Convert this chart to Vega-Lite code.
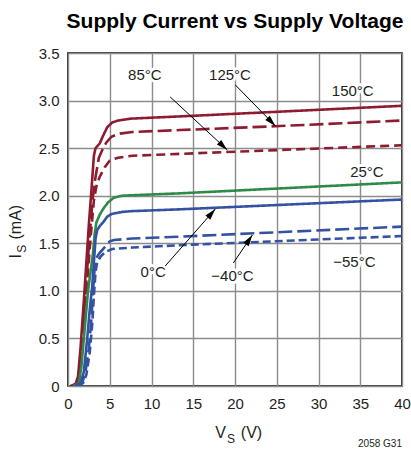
{
  "$schema": "https://vega.github.io/schema/vega-lite/v6.json",
  "width": 334,
  "height": 333,
  "autosize": {"type": "none"},
  "padding": {"left": 68, "top": 53, "right": 9, "bottom": 66},
  "title": {
    "text": "Supply Current vs Supply Voltage",
    "font": "Liberation Sans, sans-serif",
    "fontSize": 21,
    "fontWeight": "bold",
    "color": "#000000",
    "anchor": "middle",
    "offset": 14
  },
  "config": {
    "font": "Liberation Sans, sans-serif",
    "view": {"stroke": "#000000", "strokeWidth": 1.6},
    "axis": {
      "domain": false,
      "ticks": false,
      "grid": true,
      "gridColor": "#8c8c8c",
      "gridWidth": 1.4,
      "labelFont": "Liberation Sans, sans-serif",
      "labelFontSize": 15,
      "labelColor": "#231f20",
      "labelPadding": 9,
      "labelFlush": false
    }
  },
  "datasets": {
    "curves": [
      {"s": "150°C", "V": 0.3, "I": 0}, {"s": "150°C", "V": 0.9, "I": 0.02}, {"s": "150°C", "V": 1.2, "I": 0.1}, {"s": "150°C", "V": 1.5, "I": 0.4}, {"s": "150°C", "V": 1.9, "I": 0.9}, {"s": "150°C", "V": 2.2, "I": 1.3}, {"s": "150°C", "V": 2.5, "I": 1.7}, {"s": "150°C", "V": 2.8, "I": 2.05}, {"s": "150°C", "V": 3.1, "I": 2.42}, {"s": "150°C", "V": 3.3, "I": 2.5}, {"s": "150°C", "V": 3.8, "I": 2.55}, {"s": "150°C", "V": 4.2, "I": 2.63}, {"s": "150°C", "V": 4.7, "I": 2.72}, {"s": "150°C", "V": 5.3, "I": 2.77}, {"s": "150°C", "V": 6, "I": 2.79}, {"s": "150°C", "V": 7.5, "I": 2.81}, {"s": "150°C", "V": 15, "I": 2.84}, {"s": "150°C", "V": 40, "I": 2.945},
      {"s": "125°C", "V": 0.5, "I": 0}, {"s": "125°C", "V": 1.1, "I": 0.03}, {"s": "125°C", "V": 1.4, "I": 0.15}, {"s": "125°C", "V": 1.8, "I": 0.6}, {"s": "125°C", "V": 2.2, "I": 1.1}, {"s": "125°C", "V": 2.6, "I": 1.6}, {"s": "125°C", "V": 3.0, "I": 2.0}, {"s": "125°C", "V": 3.3, "I": 2.2}, {"s": "125°C", "V": 3.7, "I": 2.4}, {"s": "125°C", "V": 4.2, "I": 2.5}, {"s": "125°C", "V": 4.6, "I": 2.56}, {"s": "125°C", "V": 5.2, "I": 2.62}, {"s": "125°C", "V": 6, "I": 2.65}, {"s": "125°C", "V": 7.7, "I": 2.67}, {"s": "125°C", "V": 13.4, "I": 2.69}, {"s": "125°C", "V": 24.8, "I": 2.73}, {"s": "125°C", "V": 40, "I": 2.79},
      {"s": "85°C", "V": 0.6, "I": 0}, {"s": "85°C", "V": 1.2, "I": 0.03}, {"s": "85°C", "V": 1.5, "I": 0.2}, {"s": "85°C", "V": 1.9, "I": 0.65}, {"s": "85°C", "V": 2.3, "I": 1.1}, {"s": "85°C", "V": 2.7, "I": 1.55}, {"s": "85°C", "V": 3.1, "I": 1.95}, {"s": "85°C", "V": 3.4, "I": 2.1}, {"s": "85°C", "V": 3.8, "I": 2.2}, {"s": "85°C", "V": 4.4, "I": 2.3}, {"s": "85°C", "V": 5.0, "I": 2.37}, {"s": "85°C", "V": 6, "I": 2.4}, {"s": "85°C", "V": 7.7, "I": 2.42}, {"s": "85°C", "V": 13.4, "I": 2.44}, {"s": "85°C", "V": 40, "I": 2.53},
      {"s": "25°C", "V": 0.6, "I": 0}, {"s": "25°C", "V": 1.3, "I": 0.03}, {"s": "25°C", "V": 1.6, "I": 0.2}, {"s": "25°C", "V": 2.0, "I": 0.6}, {"s": "25°C", "V": 2.4, "I": 1.0}, {"s": "25°C", "V": 2.7, "I": 1.2}, {"s": "25°C", "V": 3.0, "I": 1.4}, {"s": "25°C", "V": 3.2, "I": 1.6}, {"s": "25°C", "V": 3.4, "I": 1.72}, {"s": "25°C", "V": 3.8, "I": 1.8}, {"s": "25°C", "V": 4.2, "I": 1.86}, {"s": "25°C", "V": 4.8, "I": 1.93}, {"s": "25°C", "V": 5.5, "I": 1.98}, {"s": "25°C", "V": 6.5, "I": 2.0}, {"s": "25°C", "V": 7.7, "I": 2.005}, {"s": "25°C", "V": 13.4, "I": 2.025}, {"s": "25°C", "V": 40, "I": 2.14},
      {"s": "0°C", "V": 0.8, "I": 0}, {"s": "0°C", "V": 1.5, "I": 0.03}, {"s": "0°C", "V": 1.9, "I": 0.15}, {"s": "0°C", "V": 2.3, "I": 0.5}, {"s": "0°C", "V": 2.6, "I": 0.8}, {"s": "0°C", "V": 2.9, "I": 1.05}, {"s": "0°C", "V": 3.1, "I": 1.3}, {"s": "0°C", "V": 3.3, "I": 1.55}, {"s": "0°C", "V": 3.5, "I": 1.64}, {"s": "0°C", "V": 3.8, "I": 1.68}, {"s": "0°C", "V": 4.2, "I": 1.72}, {"s": "0°C", "V": 4.7, "I": 1.78}, {"s": "0°C", "V": 5.3, "I": 1.81}, {"s": "0°C", "V": 6.5, "I": 1.83}, {"s": "0°C", "V": 7.7, "I": 1.838}, {"s": "0°C", "V": 13.4, "I": 1.857}, {"s": "0°C", "V": 40, "I": 1.96},
      {"s": "−40°C", "V": 1.0, "I": 0}, {"s": "−40°C", "V": 1.7, "I": 0.03}, {"s": "−40°C", "V": 2.1, "I": 0.15}, {"s": "−40°C", "V": 2.5, "I": 0.4}, {"s": "−40°C", "V": 2.8, "I": 0.7}, {"s": "−40°C", "V": 3.0, "I": 1.0}, {"s": "−40°C", "V": 3.2, "I": 1.25}, {"s": "−40°C", "V": 3.5, "I": 1.36}, {"s": "−40°C", "V": 3.8, "I": 1.4}, {"s": "−40°C", "V": 4.3, "I": 1.45}, {"s": "−40°C", "V": 5.0, "I": 1.52}, {"s": "−40°C", "V": 5.5, "I": 1.535}, {"s": "−40°C", "V": 7.7, "I": 1.55}, {"s": "−40°C", "V": 13.4, "I": 1.57}, {"s": "−40°C", "V": 40, "I": 1.675},
      {"s": "−55°C", "V": 1.1, "I": 0}, {"s": "−55°C", "V": 1.8, "I": 0.03}, {"s": "−55°C", "V": 2.2, "I": 0.12}, {"s": "−55°C", "V": 2.6, "I": 0.35}, {"s": "−55°C", "V": 2.9, "I": 0.65}, {"s": "−55°C", "V": 3.1, "I": 0.95}, {"s": "−55°C", "V": 3.3, "I": 1.2}, {"s": "−55°C", "V": 3.5, "I": 1.3}, {"s": "−55°C", "V": 3.9, "I": 1.36}, {"s": "−55°C", "V": 4.5, "I": 1.41}, {"s": "−55°C", "V": 5.3, "I": 1.44}, {"s": "−55°C", "V": 7.7, "I": 1.455}, {"s": "−55°C", "V": 13.4, "I": 1.48}, {"s": "−55°C", "V": 40, "I": 1.576}
    ],
    "labels": [
      {"t": "85°C", "V": 9.2, "I": 3.27},
      {"t": "125°C", "V": 19.4, "I": 3.27},
      {"t": "150°C", "V": 34.1, "I": 3.1},
      {"t": "25°C", "V": 35.8, "I": 2.25},
      {"t": "0°C", "V": 10.2, "I": 1.2},
      {"t": "−40°C", "V": 19.7, "I": 1.16},
      {"t": "−55°C", "V": 34.3, "I": 1.3}
    ],
    "arrows": [
      {"a": "85°C", "V": 12.24, "I": 3.038, "V2": 19.08, "I2": 2.481},
      {"a": "125°C", "V": 20.04, "I": 3.164, "V2": 24.84, "I2": 2.733},
      {"a": "0°C", "V": 11.64, "I": 1.261, "V2": 17.64, "I2": 1.86},
      {"a": "−40°C", "V": 19.8, "I": 1.293, "V2": 22.08, "I2": 1.587}
    ]
  },
  "layer": [
    {
      "data": {"name": "curves"},
      "mark": {"type": "line", "strokeWidth": 2.6, "clip": true},
      "encoding": {
        "x": {"field": "V", "type": "quantitative", "title": null,
              "scale": {"domain": [0, 40], "nice": false},
              "axis": {"values": [0, 5, 10, 15, 20, 25, 30, 35, 40], "labelPadding": 10}},
        "y": {"field": "I", "type": "quantitative", "title": null,
              "scale": {"domain": [0, 3.5], "nice": false},
              "axis": {"values": [0, 0.5, 1, 1.5, 2, 2.5, 3, 3.5],
                       "labelExpr": "datum.value == 0 ? '0' : format(datum.value, '.1f')"}},
        "color": {"field": "s", "type": "nominal", "legend": null,
                  "scale": {"domain": ["150°C", "125°C", "85°C", "25°C", "0°C", "−40°C", "−55°C"],
                            "range": ["#8e1b30", "#8e1b30", "#8e1b30", "#2f8a47", "#3452a4", "#3452a4", "#3452a4"]}},
        "strokeDash": {"field": "s", "type": "nominal", "legend": null,
                       "scale": {"domain": ["150°C", "125°C", "85°C", "25°C", "0°C", "−40°C", "−55°C"],
                                 "range": [[1, 0], [14, 5], [9, 5], [1, 0], [1, 0], [14, 5], [8, 4]]}}
      }
    },
    {
      "data": {"name": "labels"},
      "mark": {"type": "text", "fontSize": 15, "stroke": "white", "strokeWidth": 6, "strokeJoin": "round", "fill": "white", "align": "center", "baseline": "middle"},
      "encoding": {
        "x": {"field": "V", "type": "quantitative", "title": null},
        "y": {"field": "I", "type": "quantitative", "title": null},
        "text": {"field": "t"}
      }
    },
    {
      "data": {"name": "labels"},
      "mark": {"type": "text", "fontSize": 15, "fill": "#231f20", "align": "center", "baseline": "middle"},
      "encoding": {
        "x": {"field": "V", "type": "quantitative", "title": null},
        "y": {"field": "I", "type": "quantitative", "title": null},
        "text": {"field": "t"}
      }
    },
    {
      "data": {"name": "arrows"},
      "mark": {"type": "rule", "color": "#000000", "strokeWidth": 1},
      "encoding": {
        "x": {"field": "V", "type": "quantitative", "title": null},
        "y": {"field": "I", "type": "quantitative", "title": null},
        "x2": {"field": "V2"},
        "y2": {"field": "I2"}
      }
    },
    {
      "data": {"name": "arrows"},
      "transform": [{"filter": "datum.a == '85°C'"}],
      "mark": {"type": "point", "shape": "M0,0L0.45,1.6L-0.45,1.6Z", "size": 200, "filled": true, "color": "#000000", "opacity": 1, "angle": 133},
      "encoding": {
        "x": {"field": "V2", "type": "quantitative", "title": null},
        "y": {"field": "I2", "type": "quantitative", "title": null}
      }
    },
    {
      "data": {"name": "arrows"},
      "transform": [{"filter": "datum.a == '125°C'"}],
      "mark": {"type": "point", "shape": "M0,0L0.45,1.6L-0.45,1.6Z", "size": 200, "filled": true, "color": "#000000", "opacity": 1, "angle": 136},
      "encoding": {
        "x": {"field": "V2", "type": "quantitative", "title": null},
        "y": {"field": "I2", "type": "quantitative", "title": null}
      }
    },
    {
      "data": {"name": "arrows"},
      "transform": [{"filter": "datum.a == '0°C'"}],
      "mark": {"type": "point", "shape": "M0,0L0.45,1.6L-0.45,1.6Z", "size": 200, "filled": true, "color": "#000000", "opacity": 1, "angle": 41},
      "encoding": {
        "x": {"field": "V2", "type": "quantitative", "title": null},
        "y": {"field": "I2", "type": "quantitative", "title": null}
      }
    },
    {
      "data": {"name": "arrows"},
      "transform": [{"filter": "datum.a == '−40°C'"}],
      "mark": {"type": "point", "shape": "M0,0L0.45,1.6L-0.45,1.6Z", "size": 200, "filled": true, "color": "#000000", "opacity": 1, "angle": 34},
      "encoding": {
        "x": {"field": "V2", "type": "quantitative", "title": null},
        "y": {"field": "I2", "type": "quantitative", "title": null}
      }
    },
    {
      "data": {"values": [{"t": "V", "V": 18.9, "I": -0.545}]},
      "mark": {"type": "text", "fontSize": 16, "fill": "#231f20", "baseline": "alphabetic", "align": "right", "clip": false},
      "encoding": {
        "x": {"field": "V", "type": "quantitative", "title": null},
        "y": {"field": "I", "type": "quantitative", "title": null},
        "text": {"field": "t"}
      }
    },
    {
      "data": {"values": [{"t": "(V)", "V": 20.7, "I": -0.545}]},
      "mark": {"type": "text", "fontSize": 16, "fill": "#231f20", "baseline": "alphabetic", "align": "left", "clip": false},
      "encoding": {
        "x": {"field": "V", "type": "quantitative", "title": null},
        "y": {"field": "I", "type": "quantitative", "title": null},
        "text": {"field": "t"}
      }
    },
    {
      "data": {"values": [{"t": "S", "V": 19.05, "I": -0.6}]},
      "mark": {"type": "text", "fontSize": 12, "fill": "#231f20", "baseline": "alphabetic", "align": "left", "clip": false},
      "encoding": {
        "x": {"field": "V", "type": "quantitative", "title": null},
        "y": {"field": "I", "type": "quantitative", "title": null},
        "text": {"field": "t"}
      }
    },
    {
      "data": {"values": [
        {"t": "I", "V": -5.6, "I": 1.34},
        {"t": "(mA)", "V": -5.6, "I": 1.54}
      ]},
      "mark": {"type": "text", "fontSize": 16, "fill": "#231f20", "angle": 270, "baseline": "alphabetic", "align": "left", "clip": false},
      "encoding": {
        "x": {"field": "V", "type": "quantitative", "title": null},
        "y": {"field": "I", "type": "quantitative", "title": null},
        "text": {"field": "t"}
      }
    },
    {
      "data": {"values": [{"t": "S", "V": -5.0, "I": 1.40}]},
      "mark": {"type": "text", "fontSize": 12, "fill": "#231f20", "angle": 270, "baseline": "alphabetic", "align": "left", "clip": false},
      "encoding": {
        "x": {"field": "V", "type": "quantitative", "title": null},
        "y": {"field": "I", "type": "quantitative", "title": null},
        "text": {"field": "t"}
      }
    },
    {
      "data": {"values": [{"t": "2058 G31", "V": 40, "I": -0.645}]},
      "mark": {"type": "text", "fontSize": 10, "fill": "#231f20", "align": "right", "baseline": "alphabetic", "clip": false},
      "encoding": {
        "x": {"field": "V", "type": "quantitative", "title": null},
        "y": {"field": "I", "type": "quantitative", "title": null},
        "text": {"field": "t"}
      }
    }
  ]
}
